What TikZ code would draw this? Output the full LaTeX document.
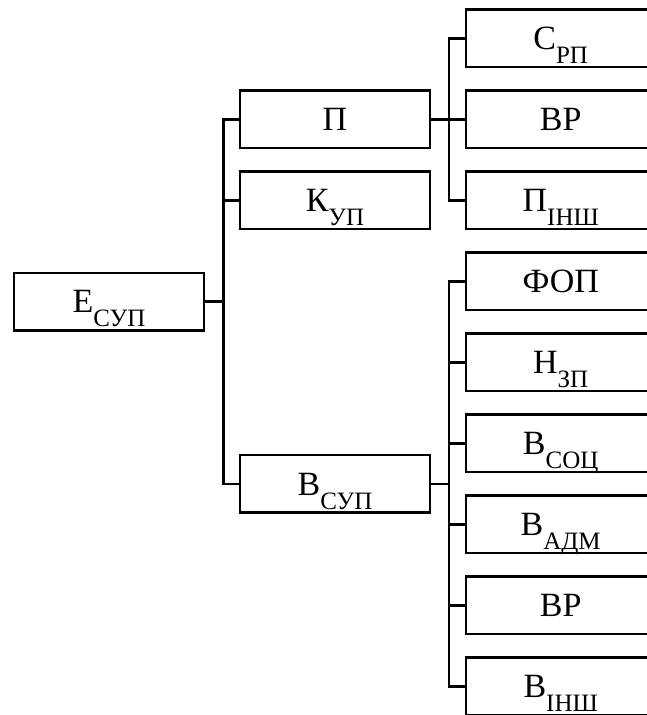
\documentclass[tikz,border=0pt]{standalone}
\usepackage{fontspec}
\setmainfont{Liberation Serif}
\newcommand{\ind}[1]{\raisebox{-14pt}{\fontsize{25pt}{25pt}\selectfont #1}}
\begin{document}
\begin{tikzpicture}[x=1pt,y=-1pt,line width=2.4pt,
  box/.style={draw,minimum width=190pt,minimum height=57.5pt,inner sep=0pt,
    text height=22.5pt,text depth=0pt,font=\fontsize{34pt}{34pt}\selectfont}]
\useasboundingbox (0,0) rectangle (647,715);
\node[box] (esup) at (109,301.55) {Е\ind{СУП}};
\node[box] (p) at (335,119.3) {П};
\node[box] (kup) at (335,200.3) {К\ind{УП}};
\node[box] (vsup) at (335,483.8) {В\ind{СУП}};
\node[box] (srp) at (560.7,38.3) {С\ind{РП}};
\node[box] (vr) at (560.7,119.3) {ВР};
\node[box] (pinsh) at (560.7,200.3) {П\ind{ІНШ}};
\node[box] (fop) at (560.7,281.3) {ФОП};
\node[box] (nzp) at (560.7,362.3) {Н\ind{ЗП}};
\node[box] (vsoc) at (560.7,443.3) {В\ind{СОЦ}};
\node[box] (vadm) at (560.7,524.3) {В\ind{АДМ}};
\node[box] (vrb) at (560.7,605.3) {ВР};
\node[box] (vinsh) at (560.7,686.3) {В\ind{ІНШ}};
\foreach \c in {p,kup,vsup} \draw (esup.east) -- ++(18.25,0) |- (\c.west);
\foreach \c in {srp,vr,pinsh} \draw (p.east) -- ++(17.85,0) |- (\c.west);
\foreach \c in {fop,nzp,vsoc,vadm,vrb,vinsh} \draw (vsup.east) -- ++(17.85,0) |- (\c.west);
\end{tikzpicture}
\end{document}
